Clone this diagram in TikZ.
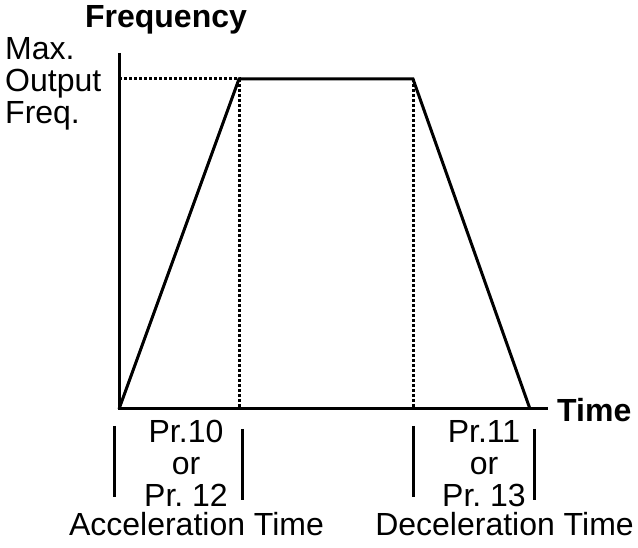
\documentclass[tikz,border=0pt]{standalone}
\usepackage{fontspec}
\setmainfont{Liberation Sans}
\usetikzlibrary{positioning}
\frenchspacing
\tikzset{
    every node/.style={align=center,inner sep=0pt,font=\fontsize{32}{32}\selectfont},
    axislabel/.style={font=\fontsize{32}{32}\selectfont\bfseries},
    curve/.style={line width=3pt,line join=miter},
    guide/.style={line width=3pt,dotted},
    bracket/.style={line width=3pt},
}
\begin{document}
\begin{tikzpicture}[x=1pt,y=1pt]
                \useasboundingbox (0,0) rectangle (638,548);

                \coordinate (origin) at (119, 139);
                \coordinate (ytop) at (119, 495);
                \coordinate (xend) at (548, 139);
                \coordinate (accel_end) at (239, 469);
                \coordinate (decel_start) at (413, 469);
                \coordinate (stop) at (530, 139);
                \coordinate (max_level) at (119, 469);
                \coordinate (accel_foot) at (239, 139);
                \coordinate (decel_foot) at (413, 139);

                \node[axislabel] (freq) at (166, 528.5) {Frequency};
                \node[axislabel,anchor=west] (time) at (557, 138) {Time};
                \node[align=left,anchor=west] (max_out) at (5, 464) {Max.\\Output\\Freq.};

                \node (accel_pr) at (186, 84.5) {Pr.10\\or\\Pr. 12};
                \node (accel_txt) at (196.5, 23.5) {Acceleration Time};
                \node (decel_pr) at (484, 84.5) {Pr.11\\or\\Pr. 13};
                \node (decel_txt) at (504.5, 23.5) {Deceleration Time};

                % axes
                \draw[curve] (ytop) -- (origin) -- (xend);
                % speed profile
                \draw[curve] (origin) -- (accel_end) -- (decel_start) -- (stop);
                \draw[guide] (max_level) -- (accel_end) -- (accel_foot);
                \draw[guide] (decel_start) -- (decel_foot);

                % time brackets
                \draw[bracket] (114, 122) -- (114, 51);
                \draw[bracket] (242, 119) -- (242, 48);
                \draw[bracket] (413, 122) -- (413, 51);
                \draw[bracket] (534, 119) -- (534, 48);
            \end{tikzpicture}
\end{document}
